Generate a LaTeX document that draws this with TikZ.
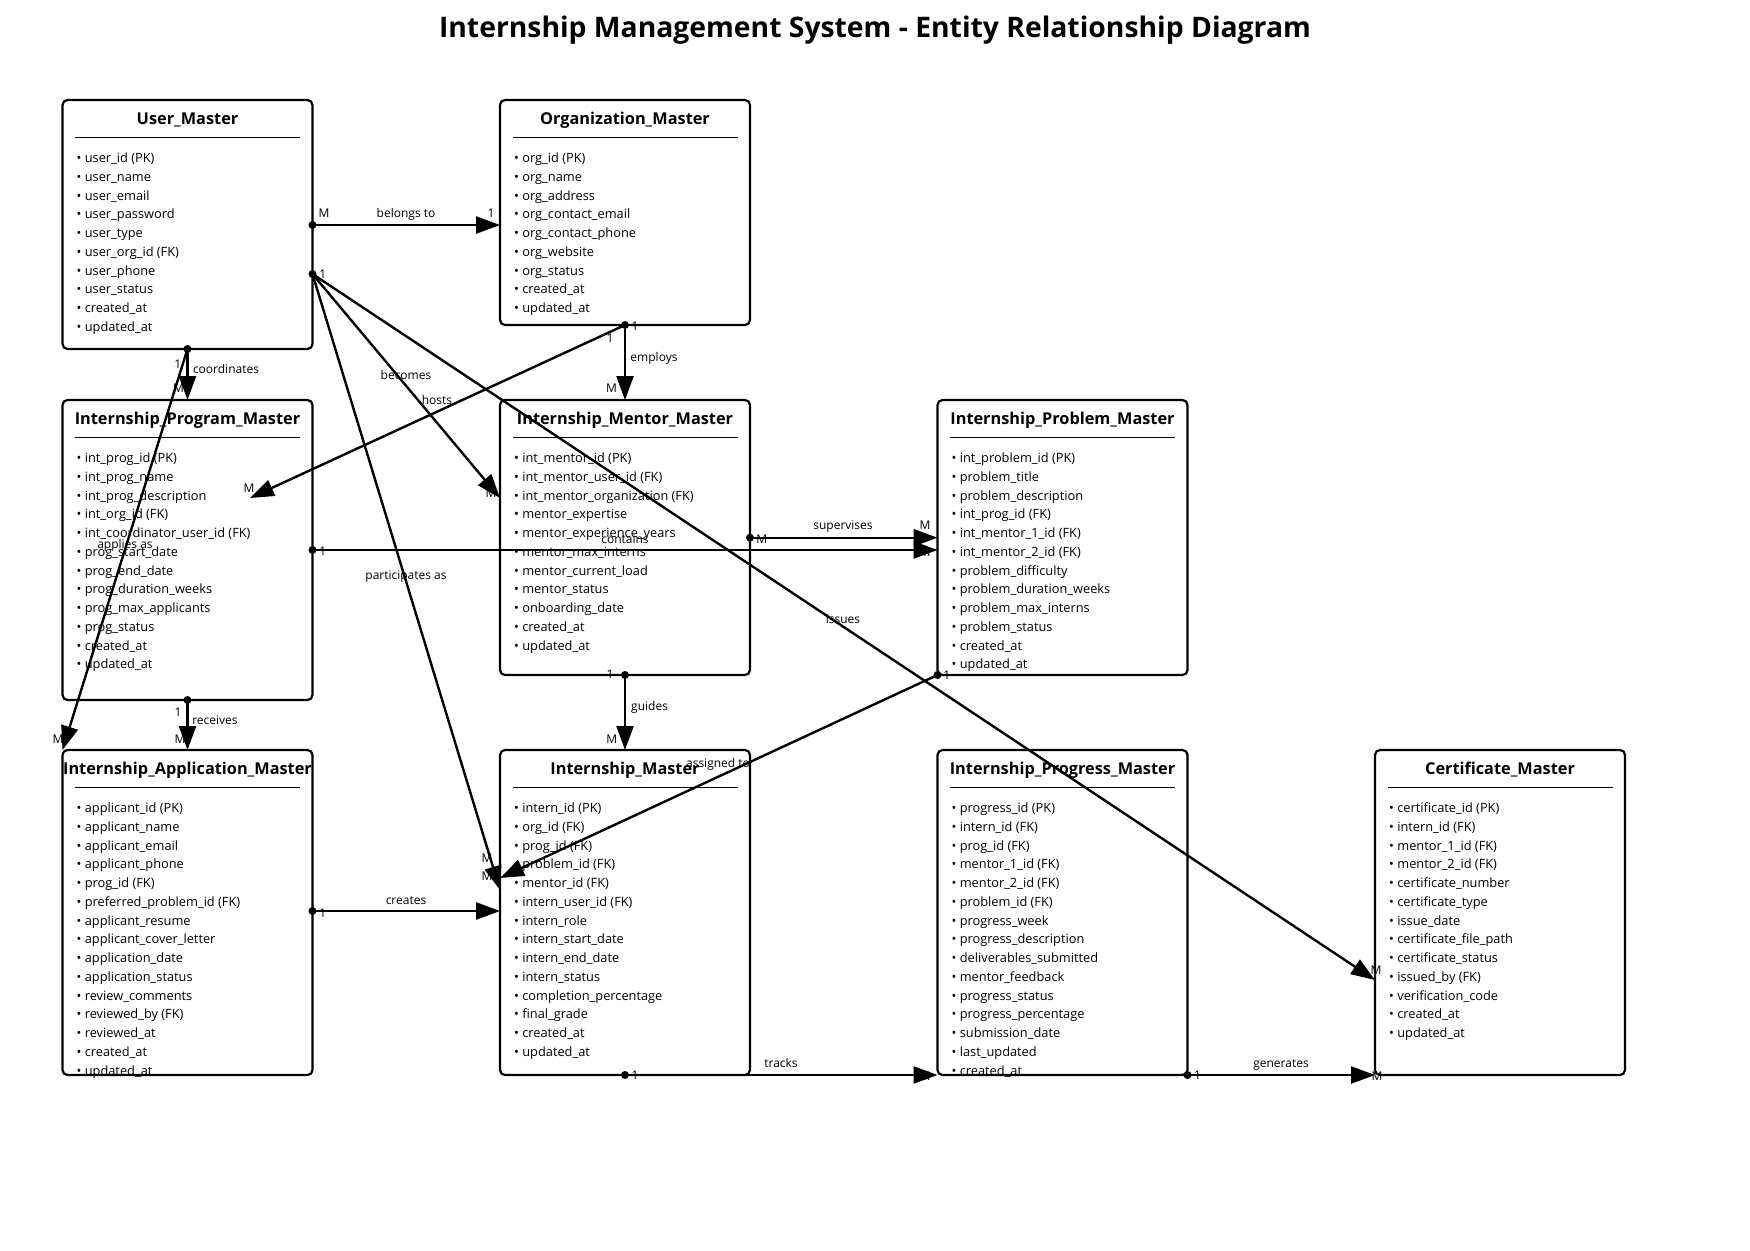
\documentclass[tikz,border=0pt]{standalone}
\usepackage{fontspec}
\setmainfont{Open Sans}
\usetikzlibrary{arrows.meta}
\tikzset{
  ebox/.style={draw, line width=2.2pt, rounded corners=5pt, minimum width=250pt, outer sep=0pt, inner sep=0pt},
  hdr/.style={anchor=base, inner sep=0pt, font=\bfseries\fontsize{16.3}{19}\selectfont},
  hrule/.style={line width=1.2pt},
  attr/.style={anchor=base west, inner sep=0pt, font=\fontsize{12.8}{15}\selectfont},
  lbl/.style={inner sep=0pt, font=\fontsize{12}{14}\selectfont, text height=8pt, text depth=2pt},
  conn/.style={line width=2.4pt, -{Triangle[length=24pt,width=17pt]}},
  ttl/.style={anchor=base, inner sep=0pt, font=\bfseries\fontsize{28.3}{32}\selectfont}
}
\newcommand{\entity}[6]{%
  \node[ebox, minimum height=#4pt, anchor=north west] (#1) at (#2,#3) {};
  \node[hdr] (#1-h) at ([yshift=-24.5pt]#1.north) {#5};
  \draw[hrule] ([xshift=12.5pt,yshift=-37.3pt]#1.north west) -- ([xshift=-12.5pt,yshift=-37.3pt]#1.north east);
  \foreach \t [count=\i from 0] in {#6} {
    \node[attr] (#1-a\i) at ([xshift=14pt,yshift={-62.5pt-\i*18.75pt}]#1.north west) {• \t};
  }%
}
\begin{document}
\begin{tikzpicture}[x=1pt,y=-1pt]
\useasboundingbox[fill=white] (0,0) rectangle (1750,1250);
\node[ttl] (title) at (875,37) {Internship Management System - Entity Relationship Diagram};

\entity{um}{62.5}{100}{249}{User\_Master}{user\_id (PK),user\_name,user\_email,user\_password,user\_type,user\_org\_id (FK),user\_phone,user\_status,created\_at,updated\_at}
\entity{om}{500}{100}{225}{Organization\_Master}{org\_id (PK),org\_name,org\_address,org\_contact\_email,org\_contact\_phone,org\_website,org\_status,created\_at,updated\_at}
\entity{pm}{62.5}{400}{300}{Internship\_Program\_Master}{int\_prog\_id (PK),int\_prog\_name,int\_prog\_description,int\_org\_id (FK),int\_coordinator\_user\_id (FK),prog\_start\_date,prog\_end\_date,prog\_duration\_weeks,prog\_max\_applicants,prog\_status,created\_at,updated\_at}
\entity{mm}{500}{400}{275}{Internship\_Mentor\_Master}{int\_mentor\_id (PK),int\_mentor\_user\_id (FK),int\_mentor\_organization (FK),mentor\_expertise,mentor\_experience\_years,mentor\_max\_interns,mentor\_current\_load,mentor\_status,onboarding\_date,created\_at,updated\_at}
\entity{prm}{937.5}{400}{275}{Internship\_Problem\_Master}{int\_problem\_id (PK),problem\_title,problem\_description,int\_prog\_id (FK),int\_mentor\_1\_id (FK),int\_mentor\_2\_id (FK),problem\_difficulty,problem\_duration\_weeks,problem\_max\_interns,problem\_status,created\_at,updated\_at}
\entity{am}{62.5}{750}{325}{Internship\_Application\_Master}{applicant\_id (PK),applicant\_name,applicant\_email,applicant\_phone,prog\_id (FK),preferred\_problem\_id (FK),applicant\_resume,applicant\_cover\_letter,application\_date,application\_status,review\_comments,reviewed\_by (FK),reviewed\_at,created\_at,updated\_at}
\entity{im}{500}{750}{325}{Internship\_Master}{intern\_id (PK),org\_id (FK),prog\_id (FK),problem\_id (FK),mentor\_id (FK),intern\_user\_id (FK),intern\_role,intern\_start\_date,intern\_end\_date,intern\_status,completion\_percentage,final\_grade,created\_at,updated\_at}
\entity{gm}{937.5}{750}{325}{Internship\_Progress\_Master}{progress\_id (PK),intern\_id (FK),prog\_id (FK),mentor\_1\_id (FK),mentor\_2\_id (FK),problem\_id (FK),progress\_week,progress\_description,deliverables\_submitted,mentor\_feedback,progress\_status,progress\_percentage,submission\_date,last\_updated,created\_at}
\entity{cm}{1375}{750}{325}{Certificate\_Master}{certificate\_id (PK),intern\_id (FK),mentor\_1\_id (FK),mentor\_2\_id (FK),certificate\_number,certificate\_type,issue\_date,certificate\_file\_path,certificate\_status,issued\_by (FK),verification\_code,created\_at,updated\_at}

% connection points
\coordinate (umR1) at ([yshift=-125pt]um.north east);
\coordinate (umR2) at ([yshift=-174pt]um.north east);
\coordinate (omL) at ([yshift=-125pt]om.north west);
\coordinate (mmL) at ([yshift=-98pt]mm.north west);
\coordinate (imL1) at ([yshift=-128pt]im.north west);
\coordinate (imL2) at ([yshift=-140pt]im.north west);
\coordinate (imL3) at ([yshift=-161pt]im.north west);
\coordinate (cmL) at ([yshift=-230pt]cm.north west);
\coordinate (pmIn) at ([xshift=187.5pt,yshift=-98pt]pm.north west);
\coordinate (pmR) at ([yshift=-150pt]pm.north east);
\coordinate (prmL1) at ([yshift=-137.7pt]prm.north west);
\coordinate (prmL2) at ([yshift=-150pt]prm.north west);
\coordinate (mmR) at ([yshift=-137.7pt]mm.north east);
\coordinate (amR) at ([yshift=-161pt]am.north east);

% relationship and cardinality labels
\node[lbl] (l1) at (406,214) {belongs to};
\node[lbl] (l1a) at (324,214) {M};
\node[lbl] (l1b) at (491,214) {1};
\node[lbl] (l2) at (406,376) {becomes};
\node[lbl] (l2a) at (322.7,275) {1};
\node[lbl] (l2b) at (491,494) {M};
\node[lbl] (l3) at (406,576) {participates as};
\node[lbl] (l3b) at (487,877) {M};
\node[lbl] (l4) at (843,620) {issues};
\node[lbl] (l4b) at (1376,971) {M};
\node[lbl] (l5) at (654,358) {employs};
\node[lbl] (l5a) at (635,327) {1};
\node[lbl] (l5b) at (611.6,389.5) {M};
\node[lbl] (l6) at (437,401) {hosts};
\node[lbl] (l6a) at (610,339) {1};
\node[lbl] (l6b) at (249,489) {M};
\node[lbl] (l7) at (226,370) {coordinates};
\node[lbl] (l7a) at (177.7,365) {1};
\node[lbl] (l7b) at (178.6,389.5) {M};
\node[lbl] (l8) at (125,545) {applies as};
\node[lbl] (l8b) at (58,740) {M};
\node[lbl] (l9) at (625,540) {contains};
\node[lbl] (l9a) at (322.7,552) {1};
\node[lbl] (l9b) at (925,553) {M};
\node[lbl] (l10) at (843,526.7) {supervises};
\node[lbl] (l10a) at (761.7,540) {M};
\node[lbl] (l10b) at (925,526.7) {M};
\node[lbl] (l11) at (215,721) {receives};
\node[lbl] (l11a) at (178,713) {1};
\node[lbl] (l11b) at (180,740) {M};
\node[lbl] (l12) at (649.6,707.6) {guides};
\node[lbl] (l12a) at (610,675.7) {1};
\node[lbl] (l12b) at (611.7,740) {M};
\node[lbl] (l13) at (718,764) {assigned to};
\node[lbl] (l13a) at (946.7,676.7) {1};
\node[lbl] (l13b) at (487,859) {M};
\node[lbl] (l14) at (406,901.7) {creates};
\node[lbl] (l14a) at (322.7,914) {1};
\node[lbl] (l15) at (781,1064) {tracks};
\node[lbl] (l15a) at (635,1076.7) {1};
\node[lbl] (l15b) at (925,1077) {M};
\node[lbl] (l16) at (1281,1064.7) {generates};
\node[lbl] (l16a) at (1197.5,1076) {1};
\node[lbl] (l16b) at (1377,1077) {M};

% connectors
\draw[conn] (umR1) -- (omL);
\draw[conn] (umR2) -- (mmL);
\draw[conn] (umR2) -- (imL2);
\draw[conn] (umR2) -- (cmL);
\draw[conn] (om.south) -- (mm.north);
\draw[conn] (om.south) -- (pmIn);
\draw[conn] (um.south) -- (pm.north);
\draw[conn] (um.south) -- (am.north west);
\draw[conn] (pmR) -- (prmL2);
\draw[conn] (mmR) -- (prmL1);
\draw[conn] (pm.south) -- (am.north);
\draw[conn] (mm.south) -- (im.north);
\draw[conn] (prm.south west) -- (imL1);
\draw[conn] (amR) -- (imL3);
\draw[conn] (im.south) -- (gm.south west);
\draw[conn] (gm.south east) -- (cm.south west);

% start dots
\foreach \p in {umR1,umR2,om.south,um.south,pmR,mmR,pm.south,mm.south,prm.south west,amR,im.south,gm.south east}
  \fill (\p) circle (4pt);
\end{tikzpicture}
\end{document}
